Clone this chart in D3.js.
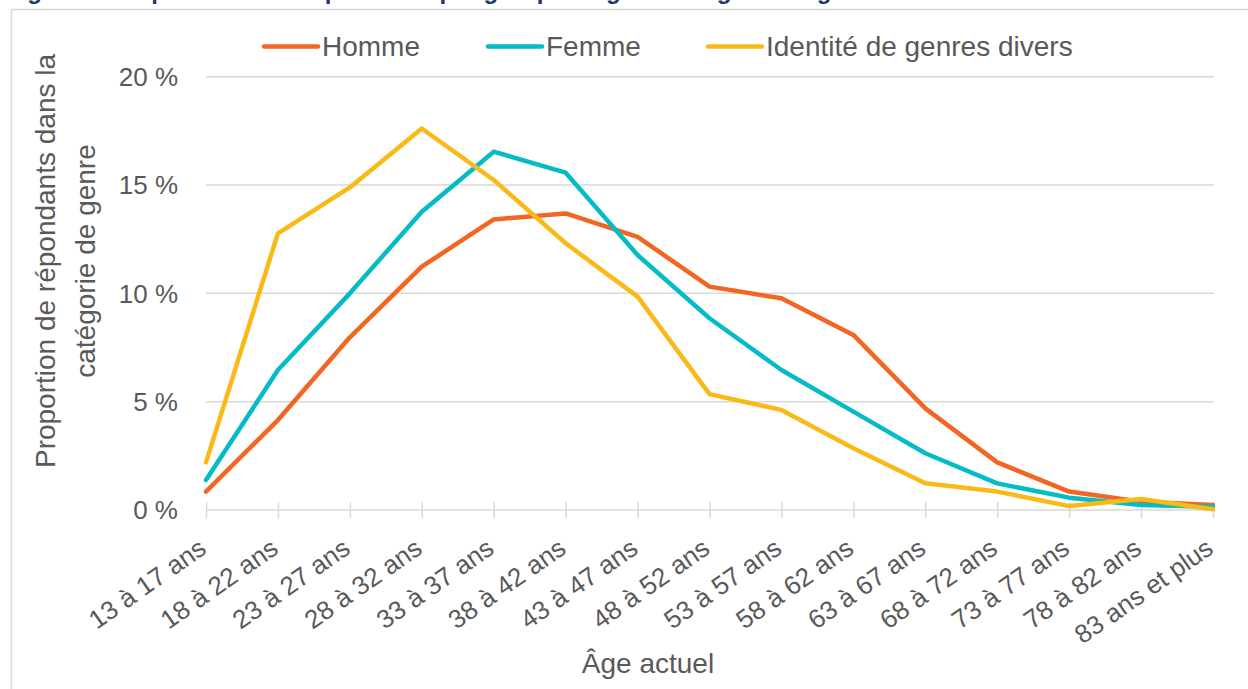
<!DOCTYPE html>
<html>
<head>
<meta charset="utf-8">
<script src="https://cdn.jsdelivr.net/npm/d3@7"></script>
<style>
  body { margin: 0; background: #fff; }
  svg { display: block; font-family: "Liberation Sans", Arial, sans-serif; }
</style>
</head>
<body>
<svg></svg>
<script>
var width = 1248;
var height = 689;

// data (percent of respondents in each gender category)
var categories = ["13 à 17 ans", "18 à 22 ans", "23 à 27 ans", "28 à 32 ans", "33 à 37 ans",
    "38 à 42 ans", "43 à 47 ans", "48 à 52 ans", "53 à 57 ans", "58 à 62 ans",
    "63 à 67 ans", "68 à 72 ans", "73 à 77 ans", "78 à 82 ans", "83 ans et plus"];
var homme = [0.85, 4.15, 7.97, 11.23, 13.41, 13.69, 12.61, 10.31, 9.77, 8.08, 4.69, 2.2, 0.85, 0.38, 0.23];
var femme = [1.38, 6.46, 10.0, 13.77, 16.54, 15.57, 11.77, 8.85, 6.46, 4.54, 2.62, 1.23, 0.57, 0.23, 0.15];
var divers = [2.2, 12.77, 14.89, 17.61, 15.23, 12.31, 9.85, 5.35, 4.62, 2.85, 1.23, 0.85, 0.18, 0.51, 0.03];
var seriesNames = ["Homme", "Femme", "Identité de genres divers"];
var yTicks = [0, 5, 10, 15, 20];

var colors = ["#F26522", "#05BBC6", "#F9BA18"];
var textColor = "#595959";
var gridColor = "#d9d9d9";

var svg = d3.select("svg")
    .attr("width", width)
    .attr("height", height)

// cropped title from the page above the chart
svg.append("text")
    .attr("x", 6)
    .attr("y", -1)
    .style("font-weight", "bold")
    .style("font-size", "24px")
    .style("fill", "#1F3864")
    .text("Figure 3 : Répartition des répondants par groupe d’âge et catégorie de genre");

// chart frame
svg.append("path")
    .attr("d", "M11.5,700V9.5H1260")
    .style("fill", "none")
    .style("stroke", gridColor)
    .style("stroke-width", 1.5);

var x = d3.scalePoint()
    .domain(categories)
    .range([206, 1213]);

var y = d3.scaleLinear()
    .domain([0, 20])
    .range([510, 76.7]);

// gridlines
svg.append("g")
    .selectAll("line")
    .data(yTicks.filter(function(d){ return d > 0; }))
    .enter()
    .append("line")
    .attr("x1", 206)
    .attr("x2", 1214)
    .attr("y1", function(d){ return y(d); })
    .attr("y2", function(d){ return y(d); })
    .style("stroke", gridColor)
    .style("stroke-width", 1.5);

// y tick labels
svg.append("g")
    .selectAll("text")
    .data(yTicks)
    .enter()
    .append("text")
    .attr("x", 178)
    .attr("y", function(d){ return y(d); })
    .attr("dy", "0.36em")
    .attr("text-anchor", "end")
    .style("font-size", "26px")
    .style("fill", textColor)
    .text(function(d){ return d + " %"; });

// x axis with crossing tick marks
var xAxis = d3.axisBottom(x)
    .tickSize(0)
    .tickFormat("");

var gx = svg.append("g")
    .attr("transform", "translate(0,510)")
    .call(xAxis);
gx.select(".domain")
    .attr("d", "M206,0H1214")
    .style("stroke", gridColor)
    .style("stroke-width", 1.5);
gx.selectAll(".tick line")
    .attr("y1", -8)
    .attr("y2", 8)
    .style("stroke", gridColor)
    .style("stroke-width", 1.5);

svg.append("g")
    .selectAll("text")
    .data(categories)
    .enter()
    .append("text")
    .attr("transform", function(d){ return "translate(" + (x(d) + 2) + ",552) rotate(-35)"; })
    .attr("text-anchor", "end")
    .style("font-size", "26px")
    .style("fill", textColor)
    .text(function(d){ return d; });

// axis titles
svg.append("text")
    .attr("x", 648)
    .attr("y", 673)
    .attr("text-anchor", "middle")
    .style("font-size", "28px")
    .style("fill", textColor)
    .text("Âge actuel");

var yTitle = ["Proportion de répondants dans la", "catégorie de genre"];
svg.append("g")
    .selectAll("text")
    .data(yTitle)
    .enter()
    .append("text")
    .attr("transform", function(d, i){ return "translate(" + (55 + i * 40) + ",261) rotate(-90)"; })
    .attr("text-anchor", "middle")
    .style("font-size", "28px")
    .style("fill", textColor)
    .text(function(d){ return d; });

// lines
var line = d3.line()
    .x(function(d, i){ return x(categories[i]); })
    .y(function(d){ return y(d); });

svg.append("g")
    .selectAll("path")
    .data([homme, femme, divers])
    .enter()
    .append("path")
    .attr("d", line)
    .style("fill", "none")
    .style("stroke", function(d, i){ return colors[i]; })
    .style("stroke-width", 4.5)
    .style("stroke-linejoin", "round")
    .style("stroke-linecap", "round");

// legend
var legendX = [264, 488, 708];
var legend = svg.selectAll("g.legend")
    .data(seriesNames)
    .enter()
    .append("g")
    .attr("class", "legend")
    .attr("transform", function(d, i){ return "translate(" + legendX[i] + ",46.5)"; });

legend.append("line")
    .attr("x1", 0)
    .attr("x2", 54)
    .style("stroke", function(d, i){ return colors[i]; })
    .style("stroke-width", 4.5)
    .style("stroke-linecap", "round");

legend.append("text")
    .attr("x", 58)
    .attr("y", 9.5)
    .style("font-size", "28px")
    .style("fill", textColor)
    .text(function(d){ return d; });
</script>
</body>
</html>
